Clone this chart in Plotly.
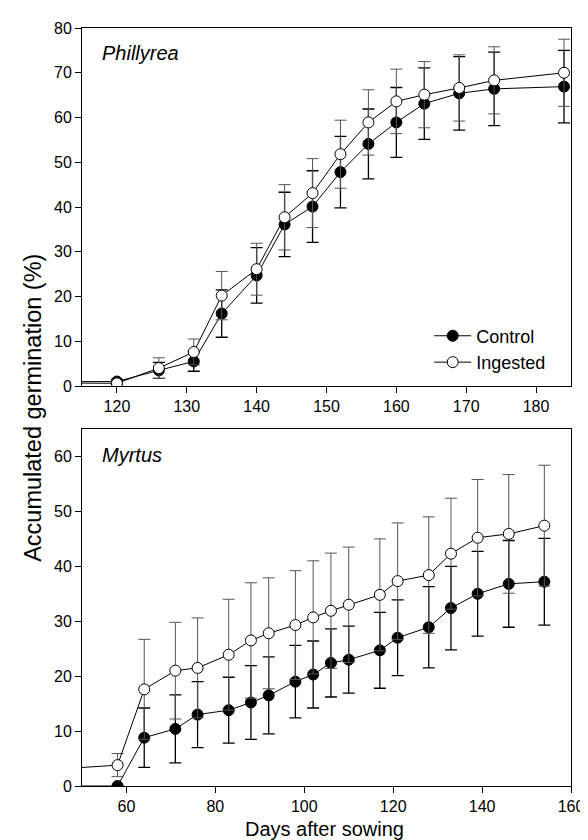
import plotly.graph_objects as go

# ---- Phillyrea (top panel) ----
phil_days = [100, 120, 126, 131, 135, 140, 144, 148, 152, 156, 160, 164, 169, 174, 184]
phil_control = [0.9, 1.0, 3.5, 5.5, 16.2, 24.7, 36.1, 40.1, 47.8, 54.1, 58.9, 63.1, 65.4, 66.4, 66.9]
phil_control_err = [0, 0.5, 1.8, 2.2, 5.3, 6.2, 7.2, 8.0, 8.0, 7.8, 7.8, 8.0, 8.2, 8.2, 8.1]
phil_ingested = [0.8, 0.6, 4.0, 7.6, 20.2, 26.1, 37.7, 43.1, 51.8, 58.9, 63.6, 65.1, 66.6, 68.3, 70.0]
phil_ingested_err = [0, 0.5, 2.3, 2.9, 5.4, 5.8, 7.3, 7.7, 7.6, 7.3, 7.2, 7.4, 7.4, 7.5, 7.5]

# ---- Myrtus (bottom panel) ----
myr_days = [45, 58, 64, 71, 76, 83, 88, 92, 98, 102, 106, 110, 117, 121, 128, 133, 139, 146, 154]
myr_control = [0, 0, 8.8, 10.4, 13.0, 13.8, 15.2, 16.5, 19.0, 20.3, 22.4, 23.0, 24.7, 27.0, 28.9, 32.4, 35.0, 36.8, 37.2]
myr_control_err = [0, 0, 5.4, 6.2, 6.0, 6.0, 6.7, 7.0, 6.6, 6.1, 6.2, 6.1, 6.9, 6.9, 7.4, 7.6, 7.7, 7.9, 7.9]
myr_ingested = [3.1, 3.8, 17.6, 21.0, 21.5, 23.9, 26.5, 27.8, 29.3, 30.7, 31.9, 33.0, 34.8, 37.3, 38.4, 42.3, 45.2, 45.9, 47.4]
myr_ingested_err = [0, 2.1, 9.1, 8.8, 9.1, 10.1, 10.5, 10.1, 9.9, 10.3, 10.5, 10.5, 10.2, 10.6, 10.6, 10.1, 10.6, 10.8, 11.0]

top_xticks = [120, 130, 140, 150, 160, 170, 180]
top_yticks = [0, 10, 20, 30, 40, 50, 60, 70, 80]
bot_xticks = [60, 80, 100, 120, 140, 160]
bot_yticks = [0, 10, 20, 30, 40, 50, 60]

FONT = "Liberation Sans, Arial, sans-serif"

fig = go.Figure()

def add_pair(days, c, ce, i, ie, xa, ya, show):
    fig.add_trace(go.Scatter(
        x=days, y=c, mode="lines+markers", name="Control", showlegend=show,
        xaxis=xa, yaxis=ya,
        line=dict(color="black", width=1),
        marker=dict(symbol="circle", size=11, color="black", line=dict(color="black", width=1)),
        error_y=dict(type="data", array=ce, visible=True, color="black", thickness=1.3, width=6),
    ))
    fig.add_trace(go.Scatter(
        x=days, y=i, mode="lines+markers", name="Ingested", showlegend=show,
        xaxis=xa, yaxis=ya,
        line=dict(color="black", width=1),
        marker=dict(symbol="circle", size=11, color="white", line=dict(color="black", width=1)),
        error_y=dict(type="data", array=ie, visible=True, color="#555555", thickness=1, width=6),
    ))

add_pair(phil_days, phil_control, phil_control_err, phil_ingested, phil_ingested_err, "x", "y", True)
add_pair(myr_days, myr_control, myr_control_err, myr_ingested, myr_ingested_err, "x2", "y2", False)

axis_common = dict(
    showgrid=False, zeroline=False, showline=True, linecolor="black", linewidth=1,
    mirror=True, ticks="outside", ticklen=6, tickcolor="black", tickwidth=1,
    tickfont=dict(family=FONT, size=16, color="black"),
)

fig.update_layout(
    width=588, height=840,
    margin=dict(l=74, r=16, t=20, b=62),
    paper_bgcolor="white", plot_bgcolor="white",
    font=dict(family=FONT, color="black"),
    xaxis=dict(domain=[0, 1], anchor="y", range=[115, 185], tickvals=top_xticks, **axis_common),
    yaxis=dict(domain=[0.5277, 1], anchor="x", range=[0, 80], tickvals=top_yticks, **axis_common),
    xaxis2=dict(domain=[0, 1], anchor="y2", range=[50, 160], tickvals=bot_xticks, **axis_common),
    yaxis2=dict(domain=[0, 0.471], anchor="x2", range=[0, 65], tickvals=bot_yticks, **axis_common),
    legend=dict(x=0.71, y=0.618, xanchor="left", yanchor="top", bgcolor="rgba(0,0,0,0)",
                font=dict(family=FONT, size=18, color="black"), tracegroupgap=0, itemwidth=37),
    showlegend=True,
    annotations=[
        dict(text="<i>Phillyrea</i>", xref="paper", yref="paper", x=0.036, y=0.967,
             xanchor="left", yanchor="middle", showarrow=False, font=dict(family=FONT, size=20)),
        dict(text="<i>Myrtus</i>", xref="paper", yref="paper", x=0.036, y=0.4367,
             xanchor="left", yanchor="middle", showarrow=False, font=dict(family=FONT, size=20)),
        dict(text="Accumulated germination (%)", xref="paper", yref="paper", x=-0.1005, y=0.4987,
             xanchor="center", yanchor="middle", textangle=-90, showarrow=False,
             font=dict(family=FONT, size=23.5)),
        dict(text="Days after sowing", xref="paper", yref="paper", x=0.496, y=-0.0745,
             xanchor="center", yanchor="bottom", showarrow=False, font=dict(family=FONT, size=20)),
    ],
)

fig.write_html("out.html")
